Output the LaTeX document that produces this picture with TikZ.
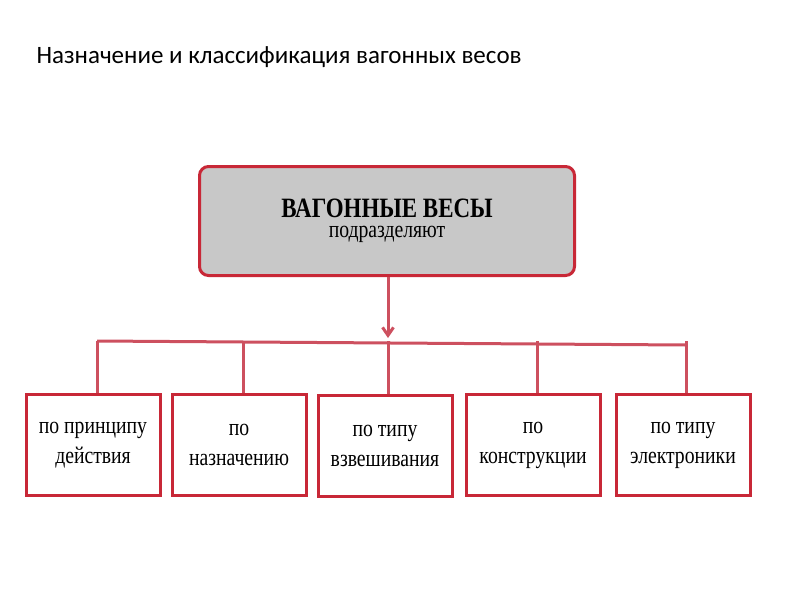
\documentclass[tikz,border=0pt]{standalone}
\usepackage{fontspec}
\setmainfont{Liberation Serif}
\newfontfamily\titlefont{Carlito}
\newfontfamily\narrowfont[FakeStretch=0.82]{Liberation Serif}
\usetikzlibrary{arrows.meta,positioning}
\definecolor{boxred}{RGB}{200,40,55}
\definecolor{linered}{RGB}{205,80,95}
\definecolor{topgray}{RGB}{200,200,200}

\begin{document}
\begin{tikzpicture}[x=1pt,y=-1pt]
            \tikzset{kind/.style = {draw=boxred, line width=3pt, minimum width=134pt, minimum height=101pt,
                                    align=center, font=\narrowfont\fontsize{24}{30}\selectfont, inner sep=2pt}}
            \tikzset{edge/.style = {draw=linered, line width=3pt}}
            \useasboundingbox (0,0) rectangle (800,600);
            
            % title
            \node[anchor=west, font=\titlefont\fontsize{25}{30}\selectfont] (title) at (33,57)
              {Назначение и классификация вагонных весов};
            
            % top box
            \node[draw=boxred, line width=3pt, fill=topgray, rounded corners=9pt, minimum width=375pt,
                  minimum height=109pt, align=center, font=\narrowfont] (top) at (387,221)
              {{\fontsize{28}{30}\selectfont\bfseries ВАГОННЫЕ ВЕСЫ}\\[8pt]{\fontsize{24}{30}\selectfont подразделяют}};
            
            % lower boxes
            \node[kind] (principle) at (93,445) {по принципу\\действия};
            \node[kind] (purpose) at (239,445) {по\\назначению};
            \node[kind] (weighing) at (385,446) {по типу\\взвешивания};
            \node[kind] (design) at (533,445) {по\\конструкции};
            \node[kind] (electronics) at (683,445) {по типу\\электроники};
            
            % connectors
            \coordinate (bus) at (388,338);
            \draw[edge, -{Straight Barb[length=8pt,width=11pt]}] (top.south -| bus) -- (bus);
            \draw[edge] (97,341) -- (686,345);
            \foreach \b/\x in {principle/97,purpose/243,weighing/388,design/537,electronics/686}
            {
              \draw[edge] (\x,341) -- (\x,0 |- \b.north);
            }
            
          \end{tikzpicture}
\end{document}
